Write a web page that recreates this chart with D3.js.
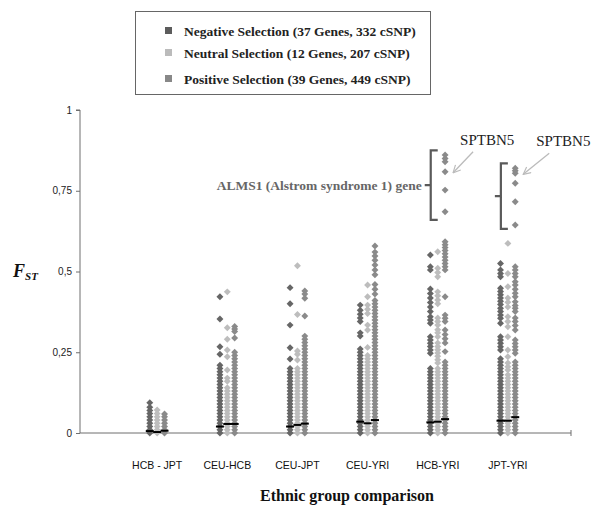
<!DOCTYPE html>
<html>
<head>
<meta charset="utf-8">
<script src="https://cdn.jsdelivr.net/npm/d3@7"></script>
<style>
  body { margin: 0; background: #fff; }
  svg { display: block; }
</style>
</head>
<body>
<div id="chart"></div>
<script>
// FST per cSNP; one inner list per comparison
var comparisons = ["HCB - JPT", "CEU-HCB", "CEU-JPT", "CEU-YRI", "HCB-YRI", "JPT-YRI"];
var selections = ["Negative Selection (37 Genes, 332 cSNP)",
                  "Neutral Selection (12 Genes, 207 cSNP)",
                  "Positive Selection (39 Genes, 449 cSNP)"];
var yTicks = [0, 0.25, 0.5, 0.75, 1];
var yTickLabels = ["0", "0,25", "0,5", "0,75", "1"];

var negativeFst = [
  [0.094, 0.08, 0.07, 0.06, 0.05, 0.04, 0.03, 0.02, 0.01, 0],
  [0.422, 0.353, 0.267, 0.244, 0.21, 0.2, 0.19, 0.18, 0.17, 0.16, 0.15, 0.14, 0.13, 0.12, 0.11, 0.1, 0.09, 0.08, 0.07, 0.06, 0.05, 0.04, 0.03, 0.02, 0.01, 0],
  [0.45, 0.4, 0.334, 0.264, 0.229, 0.2, 0.19, 0.18, 0.17, 0.16, 0.15, 0.14, 0.13, 0.12, 0.11, 0.1, 0.09, 0.08, 0.07, 0.06, 0.05, 0.04, 0.03, 0.02, 0.01, 0],
  [0.396, 0.38, 0.368, 0.356, 0.345, 0.31, 0.3, 0.26, 0.25, 0.24, 0.23, 0.22, 0.21, 0.2, 0.19, 0.18, 0.17, 0.16, 0.15, 0.14, 0.13, 0.12, 0.11, 0.1, 0.09, 0.08, 0.07, 0.06, 0.05, 0.04, 0.03, 0.02, 0.01, 0],
  [0.551, 0.515, 0.505, 0.446, 0.432, 0.418, 0.404, 0.39, 0.376, 0.36, 0.35, 0.34, 0.298, 0.288, 0.278, 0.268, 0.257, 0.247, 0.2, 0.19, 0.18, 0.17, 0.16, 0.15, 0.14, 0.13, 0.12, 0.11, 0.1, 0.09, 0.08, 0.07, 0.06, 0.05, 0.04, 0.03, 0.02, 0.01, 0],
  [0.525, 0.505, 0.494, 0.484, 0.448, 0.438, 0.428, 0.418, 0.408, 0.398, 0.386, 0.376, 0.365, 0.355, 0.34, 0.298, 0.288, 0.278, 0.267, 0.257, 0.23, 0.22, 0.21, 0.2, 0.19, 0.18, 0.17, 0.16, 0.15, 0.14, 0.13, 0.12, 0.11, 0.1, 0.09, 0.08, 0.07, 0.06, 0.05, 0.04, 0.03, 0.02, 0.01, 0]
];
var neutralFst = [
  [0.071, 0.06, 0.05, 0.04, 0.03, 0.02, 0.01, 0],
  [0.437, 0.326, 0.29, 0.257, 0.236, 0.195, 0.17, 0.16, 0.14, 0.13, 0.12, 0.11, 0.1, 0.09, 0.08, 0.07, 0.06, 0.05, 0.04, 0.03, 0.02, 0.01, 0],
  [0.518, 0.367, 0.254, 0.244, 0.226, 0.2, 0.19, 0.18, 0.17, 0.16, 0.15, 0.14, 0.13, 0.12, 0.11, 0.1, 0.09, 0.08, 0.07, 0.06, 0.05, 0.04, 0.03, 0.02, 0.01, 0],
  [0.458, 0.422, 0.396, 0.383, 0.37, 0.334, 0.319, 0.265, 0.24, 0.23, 0.22, 0.21, 0.2, 0.19, 0.18, 0.17, 0.16, 0.15, 0.14, 0.13, 0.12, 0.11, 0.1, 0.09, 0.08, 0.07, 0.06, 0.05, 0.04, 0.03, 0.02, 0.01, 0],
  [0.561, 0.51, 0.497, 0.484, 0.437, 0.425, 0.412, 0.4, 0.356, 0.345, 0.334, 0.32, 0.31, 0.298, 0.279, 0.268, 0.258, 0.248, 0.238, 0.227, 0.217, 0.2, 0.19, 0.18, 0.17, 0.16, 0.15, 0.14, 0.13, 0.12, 0.11, 0.1, 0.09, 0.08, 0.07, 0.06, 0.05, 0.04, 0.03, 0.02, 0.01, 0],
  [0.587, 0.494, 0.453, 0.418, 0.405, 0.39, 0.36, 0.345, 0.329, 0.298, 0.257, 0.236, 0.217, 0.205, 0.195, 0.18, 0.17, 0.16, 0.15, 0.14, 0.13, 0.12, 0.11, 0.1, 0.09, 0.08, 0.07, 0.06, 0.05, 0.04, 0.03, 0.02, 0.01, 0]
];
var positiveFst = [
  [0.059, 0.05, 0.04, 0.03, 0.02, 0.01, 0],
  [0.33, 0.322, 0.314, 0.294, 0.25, 0.24, 0.23, 0.22, 0.21, 0.2, 0.19, 0.18, 0.17, 0.16, 0.15, 0.14, 0.13, 0.12, 0.11, 0.1, 0.09, 0.08, 0.07, 0.06, 0.05, 0.04, 0.03, 0.02, 0.01, 0],
  [0.44, 0.43, 0.417, 0.362, 0.3, 0.29, 0.28, 0.27, 0.26, 0.25, 0.24, 0.23, 0.22, 0.21, 0.2, 0.19, 0.18, 0.17, 0.16, 0.15, 0.14, 0.13, 0.12, 0.11, 0.1, 0.09, 0.08, 0.07, 0.06, 0.05, 0.04, 0.03, 0.02, 0.01, 0],
  [0.579, 0.56, 0.548, 0.535, 0.52, 0.505, 0.49, 0.46, 0.445, 0.43, 0.41, 0.4, 0.39, 0.38, 0.37, 0.36, 0.35, 0.34, 0.33, 0.32, 0.31, 0.3, 0.29, 0.28, 0.27, 0.26, 0.25, 0.24, 0.23, 0.22, 0.21, 0.2, 0.19, 0.18, 0.17, 0.16, 0.15, 0.14, 0.13, 0.12, 0.11, 0.1, 0.09, 0.08, 0.07, 0.06, 0.05, 0.04, 0.03, 0.02, 0.01, 0],
  [0.861, 0.85, 0.84, 0.809, 0.752, 0.685, 0.592, 0.583, 0.574, 0.565, 0.555, 0.545, 0.535, 0.525, 0.515, 0.505, 0.422, 0.365, 0.355, 0.345, 0.319, 0.305, 0.292, 0.279, 0.252, 0.22, 0.21, 0.2, 0.19, 0.18, 0.17, 0.16, 0.15, 0.14, 0.13, 0.12, 0.11, 0.1, 0.09, 0.08, 0.07, 0.06, 0.05, 0.04, 0.03, 0.02, 0.01, 0],
  [0.82, 0.812, 0.804, 0.773, 0.716, 0.644, 0.515, 0.505, 0.494, 0.484, 0.468, 0.458, 0.445, 0.433, 0.422, 0.406, 0.395, 0.386, 0.376, 0.356, 0.345, 0.333, 0.319, 0.288, 0.277, 0.267, 0.257, 0.247, 0.22, 0.21, 0.2, 0.19, 0.18, 0.17, 0.16, 0.15, 0.14, 0.13, 0.12, 0.11, 0.1, 0.09, 0.08, 0.07, 0.06, 0.05, 0.04, 0.03, 0.02, 0.01, 0]
];
// median FST of each column (black dashes)
var negativeMedian = [0.006, 0.02, 0.02, 0.035, 0.033, 0.038];
var neutralMedian = [0.003, 0.028, 0.025, 0.03, 0.035, 0.038];
var positiveMedian = [0.007, 0.028, 0.029, 0.04, 0.043, 0.049];

var series = [
  {name: selections[0], values: negativeFst, median: negativeMedian, color: "#666666", offset: -0.105},
  {name: selections[1], values: neutralFst, median: neutralMedian, color: "#bdbdbd", offset: 0},
  {name: selections[2], values: positiveFst, median: positiveMedian, color: "#8a8a8a", offset: 0.105}
];

var w = 594, h = 506;
var svg = d3.select("#chart").append("svg")
    .attr("width", w)
    .attr("height", h);

var x = d3.scaleLinear().domain([0, 7]).range([80, 571]);
var y = d3.scaleLinear().domain([0, 1]).range([433, 110]);
function catX(i) { return x(i + 1.1); }

// y axis
var yAxis = d3.axisLeft(y)
    .tickValues(yTicks)
    .tickSize(4)
    .tickFormat(function (d, i) { return yTickLabels[i]; });
var gy = svg.append("g")
    .attr("transform", "translate(80,0)")
    .call(yAxis);
gy.select(".domain").attr("stroke", "#6e6e6e").attr("d", "M-4," + y(1) + "H0V" + y(0));
gy.selectAll(".tick line").attr("stroke", "#6e6e6e");
gy.selectAll(".tick text")
    .attr("x", -8)
    .style("font-family", "'Liberation Sans', Arial, sans-serif")
    .style("font-size", "10px")
    .attr("fill", "#222");

// x axis line, only the end tick shows
svg.append("line")
    .attr("x1", x(0)).attr("x2", x(7))
    .attr("y1", y(0)).attr("y2", y(0))
    .attr("stroke", "#6e6e6e");
svg.append("line")
    .attr("x1", x(7)).attr("x2", x(7))
    .attr("y1", y(0) - 3).attr("y2", y(0) + 3)
    .attr("stroke", "#6e6e6e");

svg.selectAll("text.cat")
    .data(comparisons)
    .enter()
    .append("text")
    .attr("class", "cat")
    .attr("x", function (d, i) { return catX(i); })
    .attr("y", 469)
    .attr("text-anchor", "middle")
    .style("font-family", "'Liberation Sans', Arial, sans-serif")
    .style("font-size", "10.5px")
    .attr("fill", "#111")
    .text(function (d) { return d; });

// diamond marker like excel
var diamond = {
  draw: function (ctx, size) {
    var r = Math.sqrt(size / 2);
    ctx.moveTo(0, -r); ctx.lineTo(r, 0); ctx.lineTo(0, r); ctx.lineTo(-r, 0); ctx.closePath();
  }
};
var sym = d3.symbol().type(diamond).size(24)();

series.forEach(function (s) {
  var pts = [];
  s.values.forEach(function (vals, i) {
    vals.forEach(function (v) { pts.push({i: i, v: v}); });
  });
  svg.append("g").selectAll("path")
      .data(pts)
      .enter()
      .append("path")
      .attr("d", sym)
      .attr("transform", function (d) {
        return "translate(" + x(d.i + 1.1 + s.offset) + "," + y(d.v) + ")";
      })
      .attr("fill", s.color);
});

series.forEach(function (s) {
  svg.append("g").selectAll("line")
      .data(s.median)
      .enter()
      .append("line")
      .attr("x1", function (d, i) { return x(i + 1.1 + s.offset) - 4; })
      .attr("x2", function (d, i) { return x(i + 1.1 + s.offset) + 4; })
      .attr("y1", function (d) { return y(d); })
      .attr("y2", function (d) { return y(d); })
      .attr("stroke", "#000")
      .attr("stroke-width", 2);
});

// brackets around the outliers
function bracket(cx, top, bottom) {
  var mid = (top + bottom) / 2;
  svg.append("path")
      .attr("d", "M" + (cx + 7) + "," + top + "H" + cx + "V" + bottom + "H" + (cx + 7) +
                 "M" + cx + "," + mid + "H" + (cx - 6))
      .attr("fill", "none")
      .attr("stroke", "#5a5a5a")
      .attr("stroke-width", 2.2);
}
bracket(catX(4) - 7, y(0.875), y(0.66));
bracket(catX(5) - 7, y(0.835), y(0.632));

svg.append("text")
    .attr("x", catX(4) - 16)
    .attr("y", y(0.7675) + 5)
    .attr("text-anchor", "end")
    .style("font-family", "'Liberation Serif', 'Times New Roman', serif")
    .style("font-weight", "bold")
    .style("font-size", "13.5px")
    .attr("fill", "#666")
    .text("ALMS1 (Alstrom syndrome 1) gene");

// SPTBN5 labels + arrows
svg.append("defs").append("marker")
    .attr("id", "arr")
    .attr("viewBox", "0 0 10 10")
    .attr("refX", 9).attr("refY", 5)
    .attr("markerWidth", 7).attr("markerHeight", 7)
    .attr("orient", "auto")
    .append("path")
    .attr("d", "M1,1L9,5L1,9")
    .attr("fill", "none")
    .attr("stroke", "#bbb")
    .attr("stroke-width", 1.3);

var sptbn = [{i: 4, v: 0.809, dx: 15}, {i: 5, v: 0.804, dx: 21}];
sptbn.forEach(function (p) {
  var px = x(p.i + 1.1 + 0.105), py = y(p.v);
  svg.append("line")
      .attr("x1", px + p.dx + 13).attr("y1", py - 20)
      .attr("x2", px + 8).attr("y2", py + 1)
      .attr("stroke", "#bbb")
      .attr("stroke-width", 1.3)
      .attr("marker-end", "url(#arr)");
  svg.append("text")
      .attr("x", px + p.dx)
      .attr("y", py - 27)
      .style("font-family", "'Liberation Serif', 'Times New Roman', serif")
      .style("font-size", "15px")
      .attr("fill", "#222")
      .text("SPTBN5");
});

// axis titles
var fst = svg.append("text")
    .attr("x", 13)
    .attr("y", 277)
    .style("font-family", "'Liberation Serif', 'Times New Roman', serif")
    .style("font-style", "italic")
    .style("font-weight", "bold")
    .attr("fill", "#111");
fst.append("tspan").style("font-size", "18px").text("F");
fst.append("tspan").attr("dy", 3).style("font-size", "11px").text("ST");

svg.append("text")
    .attr("x", 347)
    .attr("y", 501)
    .attr("text-anchor", "middle")
    .style("font-family", "'Liberation Serif', 'Times New Roman', serif")
    .style("font-weight", "bold")
    .style("font-size", "16px")
    .attr("fill", "#111")
    .text("Ethnic group comparison");

// legend
var legendRows = [31, 53, 79];
var lg = svg.append("g");
var box = lg.append("rect")
    .attr("x", 135.5).attr("y", 11.5)
    .attr("height", 83)
    .attr("fill", "#fff")
    .attr("stroke", "#666");
var items = lg.selectAll("g.item")
    .data(series)
    .enter()
    .append("g")
    .attr("class", "item")
    .attr("transform", function (d, i) { return "translate(0," + legendRows[i] + ")"; });
items.append("rect")
    .attr("x", 165).attr("y", -4)
    .attr("width", 7).attr("height", 7)
    .attr("fill", function (d, i) { return ["#5c5c5c", "#bbbbbb", "#888888"][i]; });
items.append("text")
    .attr("x", 184)
    .attr("y", 5)
    .style("font-family", "'Liberation Serif', 'Times New Roman', serif")
    .style("font-weight", "bold")
    .style("font-size", "13.5px")
    .attr("fill", "#222")
    .text(function (d) { return d.name; });
var maxW = d3.max(items.selectAll("text").nodes(), function (n) { return n.getComputedTextLength(); });
box.attr("width", Math.round(184 + maxW + 14 - 135));
</script>
</body>
</html>
